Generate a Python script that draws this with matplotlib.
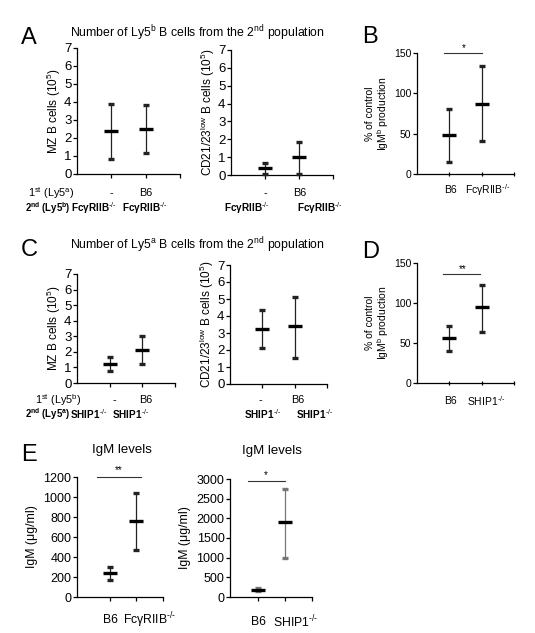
import numpy as np
import matplotlib
matplotlib.use("Agg")
import matplotlib.pyplot as plt

plt.rcParams['font.family'] = ['Liberation Sans', 'DejaVu Sans']
plt.rcParams['mathtext.fontset'] = 'custom'
plt.rcParams['mathtext.rm'] = 'Liberation Sans'
plt.rcParams['mathtext.it'] = 'Liberation Sans:italic'
plt.rcParams['mathtext.bf'] = 'Liberation Sans:bold'

# ---------------- datos (media, limite inferior, limite superior) ----------------
pos = [1, 2]

a_mz_media = [2.4, 2.5]
a_mz_lo = [0.85, 1.15]
a_mz_hi = [3.9, 3.85]

a_cd_media = [0.4, 1.0]
a_cd_lo = [0.05, 0.05]
a_cd_hi = [0.7, 1.85]

b_media = [48, 87]
b_lo = [15, 41]
b_hi = [81, 134]

c_mz_media = [1.2, 2.15]
c_mz_lo = [0.75, 1.2]
c_mz_hi = [1.7, 3.05]

c_cd_media = [3.25, 3.4]
c_cd_lo = [2.1, 1.55]
c_cd_hi = [4.35, 5.1]

d_media = [56, 95]
d_lo = [40, 64]
d_hi = [71, 122]

e1_media = [240, 760]
e1_lo = [170, 470]
e1_hi = [300, 1040]

e2_media = [190, 1900]
e2_lo = [150, 1000]
e2_hi = [220, 2750]

KO = '$^{\u2010/\u2010}$'  # superindice -/- con guion corto
FCG = 'FcγRIIB' + KO
SHIP = 'SHIP1' + KO

W, H = 535, 633
fig = plt.figure(figsize=(W / 100, H / 100), dpi=100)


def caja(x0, y0, x1, y1):
    # pixeles (desde arriba) -> fracciones de figura
    return [x0 / W, 1 - y1 / H, (x1 - x0) / W, (y1 - y0) / H]


def texto(px, py, s, **kw):
    fig.text(px / W, 1 - py / H, s, **kw)


def panel(rect, media, lo, hi, ylim, yticks, xlim=(0, 3), fs=9.5,
          ecolor='#222222', xticks_dir='out'):
    ax = fig.add_axes(rect)
    media = np.array(media)
    err = [media - np.array(lo), np.array(hi) - media]
    ax.errorbar(pos, media, yerr=err, fmt='_', ms=10, mew=2.4, color='black',
                ecolor=ecolor, elinewidth=0.9, capsize=2.4, capthick=0.9,
                clip_on=False, zorder=3)
    ax.set_xlim(*xlim)
    ax.set_ylim(*ylim)
    ax.set_yticks(yticks)
    ax.set_xticks([1, 2, 3])
    ax.set_xticklabels([])
    for s in ['top', 'right']:
        ax.spines[s].set_visible(False)
    for s in ['left', 'bottom']:
        ax.spines[s].set_linewidth(0.9)
    ax.tick_params(axis='y', direction='out', length=3, width=0.9,
                   labelsize=fs, pad=1)
    ax.tick_params(axis='x', direction=xticks_dir, length=3, width=0.9)
    ax.patch.set_alpha(0)
    return ax


# ---------------- A ----------------
ax = panel(caja(77, 48, 180, 174), a_mz_media, a_mz_lo, a_mz_hi, (0, 7), range(8))
ax.set_ylabel('MZ B cells (10$^{5}$)', fontsize=8.5, labelpad=1)
ax = panel(caja(231, 50, 333, 175), a_cd_media, a_cd_lo, a_cd_hi, (0, 7), range(8))
ax.set_ylabel('CD21/23$^{\\mathrm{low}}$ B cells (10$^{5}$)', fontsize=8.5, labelpad=1)

texto(21, 38, 'A', fontsize=17, va='center')
texto(197, 33, 'Number of Ly5$^{\\mathrm{b}}$ B cells from the 2$^{\\mathrm{nd}}$ population',
      fontsize=8.8, ha='center', va='center')
texto(28, 193, '1$^{\\mathrm{st}}$ (Ly5$^{\\mathrm{a}}$)', fontsize=7.8, va='center')
texto(25, 208, '2$^{\\mathbf{nd}}$ (Ly5$^{\\mathbf{b}}$)', fontsize=6.9, va='center', fontweight='bold')
for px, s in [(111, '-'), (146, 'B6'), (265, '-'), (300, 'B6')]:
    texto(px, 193, s, fontsize=7.8, ha='center', va='center')
for px in [117, 168, 270, 343]:
    texto(px, 208, FCG, fontsize=7.2, ha='right', va='center', fontweight='bold')

# ---------------- B ----------------
ax = panel(caja(417, 53, 514, 174), b_media, b_lo, b_hi, (0, 150), [0, 50, 100, 150],
           fs=7.5, xticks_dir='inout')
ax.set_ylabel('% of control\nIgM$^{\\mathrm{b}}$ production', fontsize=7.5, labelpad=2,
              linespacing=1.0)
ax.plot([0.85, 2.0], [150, 150], color='#333333', lw=0.8, clip_on=False)
ax.text(1.45, 156, '*', fontsize=7, ha='center', va='center')
texto(362, 37, 'B', fontsize=17, va='center')
texto(450, 190, 'B6', fontsize=7.5, ha='center', va='center')
texto(465, 190, FCG, fontsize=7.5, ha='left', va='center')

# ---------------- C ----------------
ax = panel(caja(77, 274, 175, 383), c_mz_media, c_mz_lo, c_mz_hi, (0, 7), range(8))
ax.set_ylabel('MZ B cells (10$^{5}$)', fontsize=8.5, labelpad=1)
ax = panel(caja(230, 265, 327, 384), c_cd_media, c_cd_lo, c_cd_hi, (0, 7), range(8))
ax.set_ylabel('CD21/23$^{\\mathrm{low}}$ B cells (10$^{5}$)', fontsize=8.5, labelpad=1)

texto(21, 250, 'C', fontsize=17, va='center')
texto(197, 245, 'Number of Ly5$^{\\mathrm{a}}$ B cells from the 2$^{\\mathrm{nd}}$ population',
      fontsize=8.8, ha='center', va='center')
texto(35, 400, '1$^{\\mathrm{st}}$ (Ly5$^{\\mathrm{b}}$)', fontsize=7.8, va='center')
texto(25, 414, '2$^{\\mathbf{nd}}$ (Ly5$^{\\mathbf{a}}$)', fontsize=6.9, va='center', fontweight='bold')
for px, s in [(114, '-'), (146, 'B6'), (260, '-'), (298, 'B6')]:
    texto(px, 400, s, fontsize=7.8, ha='center', va='center')
for px in [107, 149, 281, 333]:
    texto(px, 414, SHIP, fontsize=7.2, ha='right', va='center', fontweight='bold')

# ---------------- D ----------------
ax = panel(caja(417, 263, 514, 383), d_media, d_lo, d_hi, (0, 150), [0, 50, 100, 150],
           fs=7.5, xticks_dir='inout')
ax.set_ylabel('% of control\nIgM$^{\\mathrm{b}}$ production', fontsize=7.5, labelpad=2,
              linespacing=1.0)
ax.plot([0.8, 1.95], [136, 136], color='#333333', lw=0.8, clip_on=False)
ax.text(1.4, 143, '**', fontsize=7, ha='center', va='center')
texto(362, 252, 'D', fontsize=17, va='center')
texto(450, 401, 'B6', fontsize=7.5, ha='center', va='center')
texto(467, 401, SHIP, fontsize=7.5, ha='left', va='center')

# ---------------- E ----------------
ax = panel(caja(77, 477, 163, 597), e1_media, e1_lo, e1_hi, (0, 1200),
           range(0, 1201, 200), xlim=(-0.22, 2.96), fs=9)
ax.set_ylabel('IgM (μg/ml)', fontsize=8.8, labelpad=4)
ax.plot([0.52, 2.19], [1200, 1200], color='#333333', lw=0.8, clip_on=False)
ax.text(1.35, 1265, '**', fontsize=7, ha='center', va='center')
texto(122, 450, 'IgM levels', fontsize=9.5, ha='center', va='center')
texto(110, 620, 'B6', fontsize=8.8, ha='center', va='center')
texto(123, 620, FCG, fontsize=8.8, ha='left', va='center')

ax = panel(caja(230, 479, 312, 597), e2_media, e2_lo, e2_hi, (0, 3000),
           range(0, 3001, 500), xlim=(-0.04, 3.0), ecolor='#777777', fs=9)
ax.set_ylabel('IgM (μg/ml)', fontsize=8.8, labelpad=4)
ax.plot([0.63, 2.0], [2950, 2950], color='#333333', lw=0.8, clip_on=False)
ax.text(1.3, 3110, '*', fontsize=7, ha='center', va='center')
texto(272, 451, 'IgM levels', fontsize=9.5, ha='center', va='center')
texto(258, 622, 'B6', fontsize=8.8, ha='center', va='center')
texto(273, 622, SHIP, fontsize=8.8, ha='left', va='center')

texto(21, 455, 'E', fontsize=17, va='center')

fig.savefig('out.png', dpi=100)
